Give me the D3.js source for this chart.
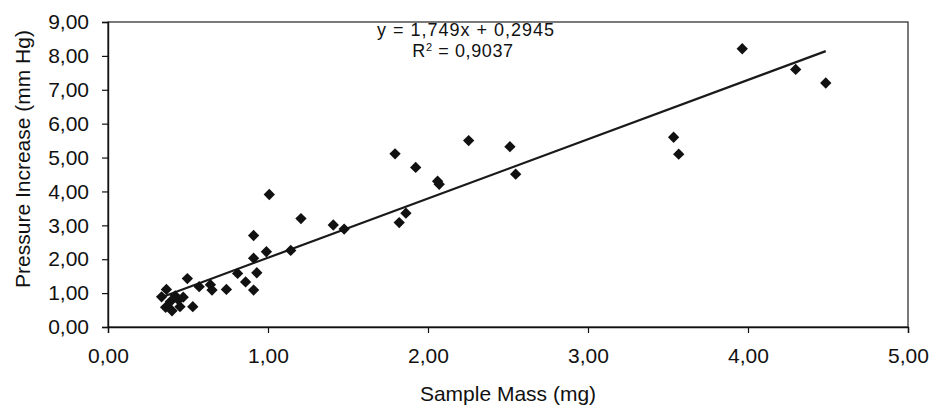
<!DOCTYPE html>
<html>
<head>
<meta charset="utf-8">
<script src="https://cdn.jsdelivr.net/npm/d3@7"></script>
<style>
  html, body { margin: 0; padding: 0; background: #fff; }
  svg { display: block; font-family: "Liberation Sans", Arial, sans-serif; }
</style>
</head>
<body>
<svg id="chart" width="932" height="410"></svg>
<script>
// ---- data ----
const sampleMass = [0.335, 0.365, 0.36, 0.40, 0.39, 0.42, 0.44, 0.45, 0.47, 0.496, 0.53,
  0.57, 0.64, 0.65, 0.74, 0.81, 0.86, 0.91, 0.93, 0.91, 0.91, 0.99, 1.008, 1.142, 1.206,
  1.408, 1.476, 1.794, 1.82, 1.862, 1.923, 2.06, 2.07, 2.254, 2.512, 2.548, 3.535, 3.567,
  3.964, 4.298, 4.486];
const pressureIncrease = [0.89, 1.11, 0.58, 0.48, 0.75, 0.92, 0.80, 0.60, 0.88, 1.43, 0.60,
  1.19, 1.25, 1.09, 1.11, 1.58, 1.33, 1.09, 1.60, 2.03, 2.70, 2.22, 3.91, 2.26, 3.20,
  3.01, 2.89, 5.11, 3.08, 3.36, 4.71, 4.30, 4.21, 5.50, 5.32, 4.51, 5.60, 5.10,
  8.21, 7.60, 7.20];
const xTicks = [0, 1, 2, 3, 4, 5];
const yTicks = [0, 1, 2, 3, 4, 5, 6, 7, 8, 9];
const trendSlope = 1.749;
const trendIntercept = 0.2945;
const equationText = "y = 1,749x + 0,2945";
const r2Value = "0,9037";
const xTitle = "Sample Mass (mg)";
const yTitle = "Pressure Increase (mm Hg)";

// ---- chart ----
const svg = d3.select("#chart");
const x = d3.scaleLinear().domain([0, 5]).range([108, 908]);
const y = d3.scaleLinear().domain([0, 9]).range([327, 22]);
const fmt = d => d.toFixed(2).replace(".", ",");

// plot border
svg.append("rect")
  .attr("x", x(0)).attr("y", y(9))
  .attr("width", x(5) - x(0)).attr("height", y(0) - y(9))
  .attr("fill", "none").attr("stroke", "#222").attr("stroke-width", 1.2);

const xAxis = svg.append("g").attr("transform", `translate(0,${y(0)})`)
  .call(d3.axisBottom(x).tickValues(xTicks).tickSize(6).tickPadding(15).tickFormat(fmt));
const yAxis = svg.append("g").attr("transform", `translate(${x(0)},0)`)
  .call(d3.axisLeft(y).tickValues(yTicks).tickSize(6).tickPadding(13).tickFormat(fmt));
[xAxis, yAxis].forEach(g => {
  g.select(".domain").attr("stroke", "#111").attr("stroke-width", 1.4);
  g.selectAll(".tick line").attr("stroke", "#111").attr("stroke-width", 1.2);
  g.selectAll(".tick text").attr("fill", "#111")
    .style("font-size", "21px").style("font-family", "'Liberation Sans', Arial, sans-serif");
});

// trendline
const xMin = d3.min(sampleMass), xMax = d3.max(sampleMass);
svg.append("line")
  .attr("x1", x(xMin)).attr("y1", y(trendSlope * xMin + trendIntercept))
  .attr("x2", x(xMax)).attr("y2", y(trendSlope * xMax + trendIntercept))
  .attr("stroke", "#1a1a1a").attr("stroke-width", 2.2);

// points
const sym = d3.symbol().type(d3.symbolSquare).size(64);
svg.append("g").selectAll("path")
  .data(sampleMass.map((m, i) => [m, pressureIncrease[i]]))
  .join("path")
  .attr("d", sym)
  .attr("transform", d => `translate(${x(d[0])},${y(d[1])}) rotate(45)`)
  .attr("fill", "#111");

// equation
svg.append("text")
  .attr("x", 466).attr("y", 36)
  .attr("text-anchor", "middle")
  .style("font-size", "18px").style("letter-spacing", "1px")
  .attr("fill", "#111")
  .text(equationText);
const r2 = svg.append("text")
  .attr("x", 463).attr("y", 57)
  .attr("text-anchor", "middle")
  .style("font-size", "18px").style("letter-spacing", "0.6px")
  .attr("fill", "#111");
r2.append("tspan").text("R");
r2.append("tspan").attr("dy", -6).style("font-size", "11px").text("2");
r2.append("tspan").attr("dy", 6).text(" = " + r2Value);

// axis titles
svg.append("text")
  .attr("x", 508).attr("y", 401)
  .attr("text-anchor", "middle")
  .style("font-size", "21px").attr("fill", "#111")
  .text(xTitle);
svg.append("text")
  .attr("transform", "translate(30,159) rotate(-90)")
  .attr("text-anchor", "middle")
  .style("font-size", "21px").attr("fill", "#111")
  .text(yTitle);
</script>
</body>
</html>
